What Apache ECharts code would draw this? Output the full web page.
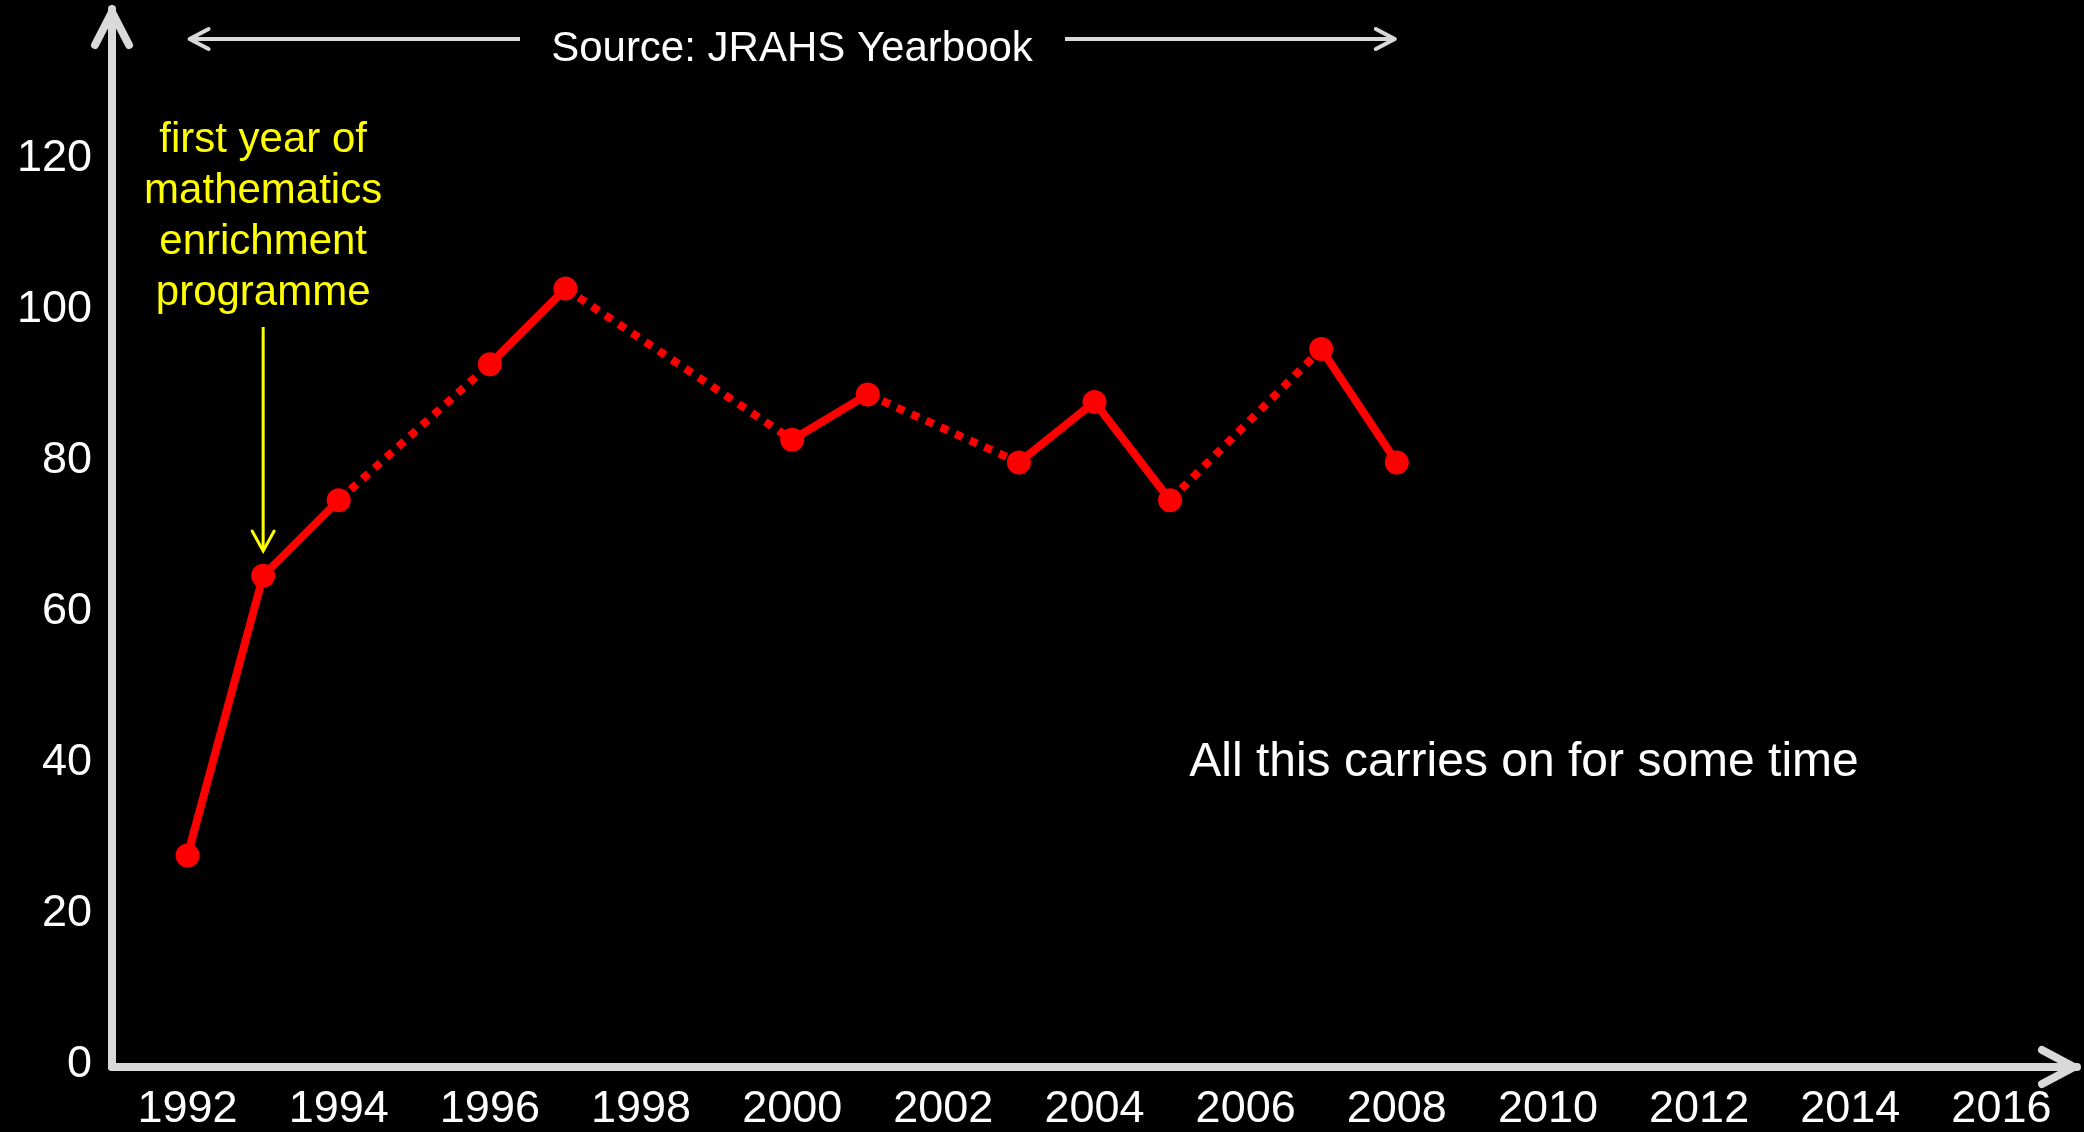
<!DOCTYPE html>
<html><head><meta charset="utf-8">
<script src="https://cdn.jsdelivr.net/npm/echarts@6/dist/echarts.min.js"></script>
<style>html,body{margin:0;padding:0;background:#000;}#c{width:2084px;height:1132px;}</style>
</head><body><div id="c"></div>
<script>
const years = [1992, 1993, 1994, 1996, 1997, 2000, 2001, 2003, 2004, 2005, 2007, 2008];
const values = [28, 65, 75, 93, 103, 83, 89, 80, 88, 75, 95, 80];
const xTickLabels = ['1992','1994','1996','1998','2000','2002','2004','2006','2008','2010','2012','2014','2016'];
const yTickLabels = ['0','20','40','60','80','100','120'];
const sourceText = 'Source: JRAHS Yearbook';
const noteLines = ['first year of', 'mathematics', 'enrichment', 'programme'];
const carryText = 'All this carries on for some time';

const FONT = '"Liberation Sans", Arial, sans-serif';
const AXIS_COLOR = '#d9d9d9';
const RED = '#ff0000';

const chart = echarts.init(document.getElementById('c'), null, {renderer: 'canvas'});

const series = [];
for (let i = 0; i < years.length - 1; i++) {
  const gap = years[i + 1] - years[i] > 1;
  series.push({
    type: 'line',
    data: [[years[i], values[i]], [years[i + 1], values[i + 1]]],
    symbol: 'none',
    silent: true,
    z: 2,
    lineStyle: {color: RED, width: 8, type: gap ? [8, 8] : 'solid', cap: 'butt', opacity: 1}
  });
}
series.push({
  type: 'scatter',
  data: years.map((y, i) => [y, values[i]]),
  symbolSize: 24,
  itemStyle: {color: RED, opacity: 1},
  z: 3
});

chart.setOption({
  animation: false,
  backgroundColor: '#000',
  grid: {left: 112, right: 7, top: 9, bottom: 65},
  xAxis: {
    type: 'value', min: 1991, max: 2017, interval: 1,
    axisLine: {show: true, onZero: false, lineStyle: {color: AXIS_COLOR, width: 8}},
    axisTick: {show: false},
    splitLine: {show: false},
    axisLabel: {
      color: '#fff', fontFamily: FONT, fontSize: 45, margin: 20,
      formatter: v => xTickLabels.includes(String(v)) ? String(v) : ''
    }
  },
  yAxis: {
    type: 'value', min: 0, max: 140, interval: 20,
    axisLine: {show: true, lineStyle: {color: AXIS_COLOR, width: 8}},
    axisTick: {show: false},
    splitLine: {show: false},
    axisLabel: {
      color: '#fff', fontFamily: FONT, fontSize: 45, margin: 20,
      verticalAlign: 'bottom', lineHeight: 4,
      formatter: v => yTickLabels.includes(String(v)) ? String(v) : ''
    }
  },
  series: series
});

function px(x, y) { return chart.convertToPixel({gridIndex: 0}, [x, y]); }
const yTop = px(1991, 140);
const xEnd = px(2017, 0);
const x1992 = px(1992, 0)[0];
const x1993 = px(1993, 0)[0];
const x2008 = px(2008, 0)[0];

const g = [];
// axis arrowheads
g.push({type: 'polyline', shape: {points: [[yTop[0] - 17, yTop[1] + 36], [yTop[0], yTop[1] + 3], [yTop[0] + 17, yTop[1] + 36]]},
  style: {stroke: AXIS_COLOR, lineWidth: 8, lineCap: 'round', lineJoin: 'round', fill: null}, z: 10});
g.push({type: 'polyline', shape: {points: [[xEnd[0] - 35, xEnd[1] - 17], [xEnd[0] - 3, xEnd[1]], [xEnd[0] - 35, xEnd[1] + 17]]},
  style: {stroke: AXIS_COLOR, lineWidth: 8, lineCap: 'round', lineJoin: 'round', fill: null}, z: 10});
// source arrows
const sy = 39;
g.push({type: 'polyline', shape: {points: [[520, sy], [x1992 + 2, sy]]}, style: {stroke: AXIS_COLOR, lineWidth: 4, fill: null}});
g.push({type: 'polyline', shape: {points: [[x1992 + 21, sy - 10], [x1992 + 2, sy], [x1992 + 21, sy + 10]]},
  style: {stroke: AXIS_COLOR, lineWidth: 4, lineCap: 'round', lineJoin: 'round', fill: null}});
g.push({type: 'polyline', shape: {points: [[1065, sy], [x2008 - 2, sy]]}, style: {stroke: AXIS_COLOR, lineWidth: 4, fill: null}});
g.push({type: 'polyline', shape: {points: [[x2008 - 21, sy - 10], [x2008 - 2, sy], [x2008 - 21, sy + 10]]},
  style: {stroke: AXIS_COLOR, lineWidth: 4, lineCap: 'round', lineJoin: 'round', fill: null}});
g.push({type: 'text', x: 792, y: 49, style: {text: sourceText, fill: '#fff', font: '42px ' + FONT, align: 'center', verticalAlign: 'middle'}});
// yellow note
g.push({type: 'text', x: x1993, y: 217, style: {text: noteLines.join('\n'), fill: '#ffff00', font: '42px ' + FONT, lineHeight: 51, align: 'center', verticalAlign: 'middle'}});
g.push({type: 'polyline', shape: {points: [[x1993, 327], [x1993, 550]]}, style: {stroke: '#ffff00', lineWidth: 3, fill: null}});
g.push({type: 'polyline', shape: {points: [[x1993 - 11, 531], [x1993, 551], [x1993 + 11, 531]]},
  style: {stroke: '#ffff00', lineWidth: 3, lineCap: 'round', lineJoin: 'miter', fill: null}});
// carry on text
g.push({type: 'text', x: 1524, y: 763, style: {text: carryText, fill: '#fff', font: '48px ' + FONT, align: 'center', verticalAlign: 'middle'}});

chart.setOption({graphic: {elements: g}});
</script>
</body></html>
